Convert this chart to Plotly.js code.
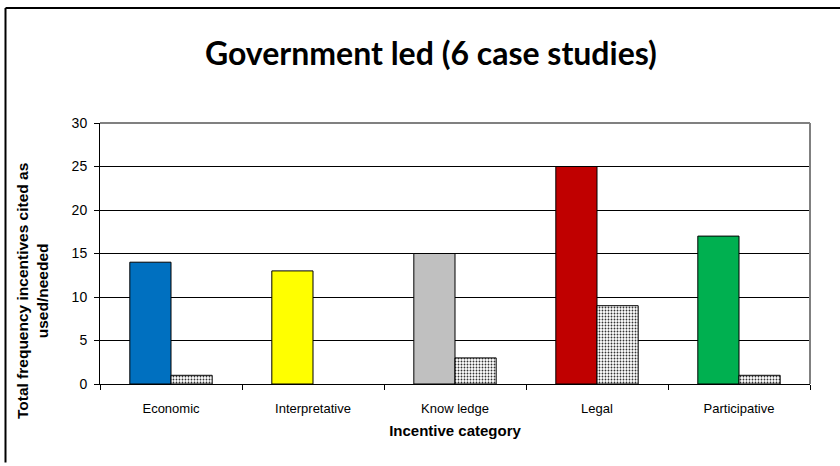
<!DOCTYPE html>
<html>
<head>
<meta charset="utf-8">
<script src="https://cdn.plot.ly/plotly-3.0.1.min.js"></script>
<style>html,body{margin:0;padding:0;background:#fff;}#chart{width:840px;height:466px;}</style>
</head>
<body>
<div id="chart"></div>
<script>
const categories = ["Economic", "Interpretative", "Know ledge", "Legal", "Participative"];
const usedValues = [14, 13, 15, 25, 17];
const neededValues = [1, 0, 3, 9, 1];
const barColors = ["#0070C0", "#FFFF00", "#C0C0C0", "#C00000", "#00B050"];
const yTicks = [0, 5, 10, 15, 20, 25, 30];

const traces = [
  {
    type: "bar", x: categories, y: usedValues, name: "Used",
    marker: {color: barColors, line: {color: "#000", width: 1}},
    hoverinfo: "x+y"
  },
  {
    type: "bar", x: categories, y: neededValues, name: "Needed",
    marker: {color: "#ffffff", line: {color: "#000", width: neededValues.map(v => v > 0 ? 1 : 0)},
      pattern: {shape: ".", fgcolor: "#333", bgcolor: "#fff", size: 3, solidity: 0.3}},
    hoverinfo: "x+y"
  }
];

const layout = {
  width: 840, height: 466,
  margin: {l: 100, r: 30, t: 123, b: 82},
  paper_bgcolor: "#fff", plot_bgcolor: "#fff",
  showlegend: false,
  barmode: "group", bargap: 0.42, bargroupgap: 0,
  title: {text: "<b>Government led (6 case studies)</b>", xref: "container", x: 0.513, xanchor: "center", y: 0.884, yanchor: "middle",
    font: {family: "Lato, 'Open Sans', sans-serif", size: 32, color: "#000"}},
  font: {family: "'Liberation Sans', Arial, sans-serif", size: 12, color: "#000"},
  xaxis: {
    type: "category", showline: true, linecolor: "#000", linewidth: 1,
    ticks: "outside", tickson: "boundaries", ticklen: 5, tickcolor: "#000",
    tickfont: {size: 13}, showgrid: false, ticklabelstandoff: 12,
    title: {text: "<b>Incentive category</b>", font: {size: 15}, standoff: 10}
  },
  yaxis: {
    range: [0, 30], tickvals: yTicks, ticktext: yTicks.map(String),
    showline: true, linecolor: "#000", linewidth: 1,
    ticks: "outside", ticklen: 5, tickcolor: "#000",
    showgrid: true, gridcolor: "#000", gridwidth: 1, zeroline: false,
    tickfont: {size: 14}, ticklabelstandoff: 4
  },
  annotations: [
    {text: "<b>Total frequency incentives cited as<br>used/needed</b>", xref: "paper", yref: "paper",
     x: -0.0958, y: 0.356, xanchor: "center", yanchor: "middle", textangle: -90, showarrow: false,
     font: {size: 15.5, color: "#000"}}
  ],
  shapes: [
    {type: "line", xref: "paper", yref: "paper", x0: 0, x1: 1, y0: 1, y1: 1, line: {color: "#808080", width: 2}},
    {type: "line", xref: "paper", yref: "paper", x0: 1, x1: 1, y0: 0, y1: 1, line: {color: "#808080", width: 2}},
    {type: "line", xref: "paper", yref: "paper", x0: -0.1331, x1: 1.05, y0: 1.4404, y1: 1.4404, line: {color: "#000", width: 2}},
    {type: "line", xref: "paper", yref: "paper", x0: -0.1331, x1: -0.1331, y0: 1.4404, y1: -0.301, line: {color: "#000", width: 2}}
  ]
};

Plotly.newPlot("chart", traces, layout, {displayModeBar: false, staticPlot: true});
</script>
</body>
</html>
